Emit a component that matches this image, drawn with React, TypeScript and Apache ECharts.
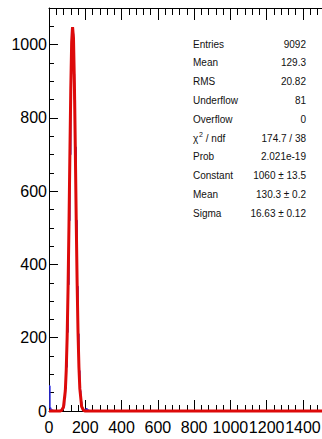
import React, { useEffect, useRef } from "react";
import * as echarts from "echarts";

// Histogram (bin low edge, counts), bin width 5
const binEdges = [0, 5, 10, 15, 20, 25, 30, 35, 40, 45, 50, 55, 60, 65, 70, 75, 80, 85, 90, 95, 100, 105, 110, 115, 120, 125, 130, 135, 140, 145, 150, 155, 160, 165, 170, 175, 180, 185, 190, 195, 200, 205, 210, 215, 220, 225];
const binCounts = [68, 8, 3, 2, 1, 1, 1, 0, 1, 0, 1, 1, 1, 2, 3, 6, 15, 35, 62, 120, 215, 345, 520, 700, 930, 1045, 1030, 920, 850, 720, 520, 340, 210, 110, 55, 25, 10, 5, 3, 1, 4, 6, 3, 2, 0, 0];

// Fit curve points
const fitX = [0, 60, 70, 80, 90, 95, 100, 105, 110, 115, 120, 125, 130, 135, 140, 145, 150, 155, 160, 165, 170, 180, 190, 200, 1600];
const fitY = [0, 0, 2, 11, 56, 111, 201, 333, 503, 694, 875, 1007, 1048, 1018, 894, 717, 525, 352, 215, 120, 61, 12, 2, 0, 0];

const xMax = 1600;
const yMax = 1100;

const statLabels = ["Entries", "Mean", "RMS", "Underflow", "Overflow", "", "Prob", "Constant", "Mean", "Sigma"];
const statValues = ["9092", "129.3", "20.82", "81", "0", "174.7 / 38", "2.021e-19", "1060 ± 13.5", "130.3 ± 0.2", "16.63 ± 0.12"];

const FONT = "'Liberation Sans', Arial, Helvetica, sans-serif";

export default function App() {
  const ref = useRef<HTMLDivElement>(null);
  useEffect(() => {
    if (!ref.current) return;
    const chart = echarts.init(ref.current, undefined, { renderer: "svg" });
    const histData = binEdges.map((x, i) => [x, binCounts[i]]);
    histData.push([xMax, 0]);
    const fitData = fitX.map((x, i) => [x, fitY[i]]);

    const rowY0 = 44;
    const rowDy = 18.8;
    const graphics: any[] = [];
    statLabels.forEach((l, i) => {
      const y = rowY0 + i * rowDy;
      if (l) {
        graphics.push({
          type: "text", x: 193, y,
          style: { text: l, font: `10px ${FONT}`, fill: "#111", textVerticalAlign: "middle", textAlign: "left" },
        });
      }
      graphics.push({
        type: "text", x: 306, y,
        style: { text: statValues[i], font: `10px ${FONT}`, fill: "#111", textVerticalAlign: "middle", textAlign: "right" },
      });
    });
    const chiY = rowY0 + 5 * rowDy;
    graphics.push({ type: "text", x: 193, y: chiY, style: { text: "χ", font: `10px ${FONT}`, fill: "#111", textVerticalAlign: "middle" } });
    graphics.push({ type: "text", x: 199, y: chiY - 4, style: { text: "2", font: `7px ${FONT}`, fill: "#111", textVerticalAlign: "middle" } });
    graphics.push({ type: "text", x: 203, y: chiY, style: { text: " / ndf", font: `10px ${FONT}`, fill: "#111", textVerticalAlign: "middle" } });

    const tickCommon = { inside: true, lineStyle: { color: "#000", width: 1 } };
    const fmt = (v: number) => String(v);

    chart.setOption({
      animation: false,
      backgroundColor: "#fff",
      grid: { left: 49, top: 8, width: 304, height: 403, containLabel: false },
      xAxis: [
        {
          type: "value", min: 0, max: xMax, interval: 200, position: "bottom",
          axisLine: { show: true, onZero: false, lineStyle: { color: "#000", width: 1 } },
          axisTick: { ...tickCommon, length: 11 },
          minorTick: { show: true, splitNumber: 5, length: 6, lineStyle: { color: "#000", width: 1 } },
          axisLabel: { color: "#000", fontSize: 16, fontFamily: FONT, margin: 8, formatter: fmt, hideOverlap: false },
          splitLine: { show: false },
        },
        {
          type: "value", min: 0, max: xMax, interval: 200, position: "top",
          axisLine: { show: true, onZero: false, lineStyle: { color: "#000", width: 1 } },
          axisTick: { ...tickCommon, length: 12 },
          minorTick: { show: true, splitNumber: 5, length: 7, lineStyle: { color: "#000", width: 1 } },
          axisLabel: { show: false },
          splitLine: { show: false },
        },
      ],
      yAxis: [
        {
          type: "value", min: 0, max: yMax, interval: 200, position: "left",
          axisLine: { show: true, onZero: false, lineStyle: { color: "#000", width: 1 } },
          axisTick: { ...tickCommon, length: 9 },
          axisLabel: { color: "#000", fontSize: 16, fontFamily: FONT, margin: 2, showMaxLabel: false, formatter: fmt },
          splitLine: { show: false },
        },
        {
          type: "value", min: 0, max: yMax, interval: 50, position: "left",
          axisLine: { show: false, onZero: false },
          axisTick: { ...tickCommon, length: 5 },
          axisLabel: { show: false },
          splitLine: { show: false },
        },
      ],
      series: [
        {
          type: "line", data: histData, step: "end", showSymbol: false, symbol: "none",
          lineStyle: { color: "#2a2ae0", width: 1.5 }, z: 3, clip: false,
        },
        {
          type: "line", data: fitData, showSymbol: false, symbol: "none",
          lineStyle: { color: "#dd0a0a", width: 3 }, z: 4, clip: false,
        },
      ],
      graphic: graphics,
    });
    return () => chart.dispose();
  }, []);
  return (
    <div style={{ position: "fixed", left: 0, top: 0, width: 322, height: 439, overflow: "hidden", background: "#fff" }}>
      <div ref={ref} style={{ position: "absolute", left: 0, top: 0, width: 360, height: 439 }} />
    </div>
  );
}
